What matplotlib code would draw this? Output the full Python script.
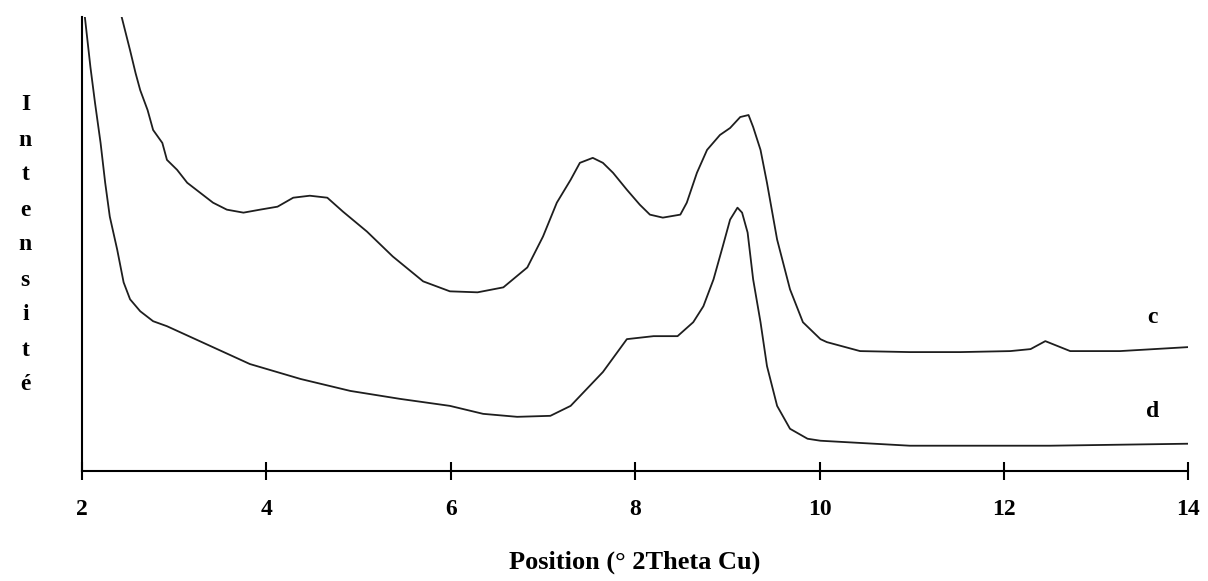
import matplotlib.pyplot as plt
import numpy as np

# diffractogrammes c et d, intensite en unites arbitraires
theta_c = [2.43, 2.52, 2.58, 2.63, 2.71, 2.77, 2.87, 2.92, 3.03, 3.14, 3.28, 3.42,
           3.57, 3.75, 3.93, 4.12, 4.29, 4.47, 4.66, 4.83, 5.09, 5.37, 5.70, 5.99,
           6.29, 6.57, 6.83, 7.00, 7.15, 7.30, 7.40, 7.54, 7.65, 7.76, 7.91, 8.05,
           8.16, 8.30, 8.49, 8.56, 8.67, 8.78, 8.92, 9.03, 9.14, 9.23, 9.28, 9.36,
           9.43, 9.54, 9.68, 9.82, 10.01, 10.08, 10.44, 10.98, 11.53, 12.07, 12.29,
           12.45, 12.72, 13.26, 14.0]
int_c = [4550, 4220, 3990, 3820, 3620, 3420, 3290, 3120, 3020, 2890, 2790, 2690,
         2620, 2590, 2620, 2650, 2740, 2760, 2740, 2600, 2400, 2150, 1900, 1800,
         1790, 1840, 2040, 2350, 2690, 2920, 3090, 3140, 3090, 2990, 2820, 2670,
         2570, 2540, 2570, 2690, 2990, 3220, 3370, 3440, 3550, 3570, 3450, 3220,
         2890, 2320, 1820, 1490, 1320, 1290, 1200, 1190, 1190, 1200, 1220,
         1300, 1200, 1200, 1240]

theta_d = [2.03, 2.09, 2.14, 2.20, 2.25, 2.30, 2.38, 2.45, 2.52, 2.63, 2.77, 2.92,
           3.82, 4.37, 4.91, 5.45, 5.99, 6.35, 6.72, 7.08, 7.30, 7.65, 7.91, 8.20,
           8.46, 8.63, 8.74, 8.85, 8.95, 9.03, 9.11, 9.16, 9.22, 9.28, 9.36, 9.43,
           9.54, 9.68, 9.87, 10.01, 10.98, 12.5, 14.0]
int_d = [4550, 4050, 3690, 3290, 2890, 2550, 2220, 1890, 1720, 1600, 1500, 1450,
         1070, 920, 800, 720, 650, 570, 540, 550, 650, 990, 1320, 1350,
         1350, 1490, 1650, 1920, 2250, 2520, 2640, 2590, 2390, 1920, 1490, 1050,
         650, 420, 320, 300, 250, 250, 270]

xticks = [2, 4, 6, 8, 10, 12, 14]

plt.rcParams['font.family'] = ['Liberation Serif', 'DejaVu Serif']
plt.rcParams['font.weight'] = 'bold'

fig = plt.figure(figsize=(12.08, 5.81), dpi=100)
ax = fig.add_axes([0.068, 0.19, 0.9156, 0.78])

ax.plot(theta_c, int_c, color='#1e1e1e', lw=1.3)
ax.plot(theta_d, int_d, color='#1e1e1e', lw=1.3)

ax.set_xlim(2, 14)
ax.set_ylim(0, 4550)
ax.spines['top'].set_visible(False)
ax.spines['right'].set_visible(False)
ax.spines['left'].set_linewidth(1.5)
ax.spines['bottom'].set_linewidth(1.5)
ax.set_yticks([])
ax.set_xticks(xticks)
ax.set_xticklabels([str(t) for t in xticks], fontsize=17, fontweight='bold')
ax.tick_params(axis='x', direction='inout', length=13, width=1.5, pad=14)

ax.set_xlabel('Position (° 2Theta Cu)', fontsize=19, fontweight='bold', labelpad=22)

ax.text(13.61, 1540, 'c', fontsize=17, fontweight='bold', ha='center', va='center')
ax.text(13.61, 590, 'd', fontsize=17, fontweight='bold', ha='center', va='center')

# etiquette verticale lettre par lettre
for i, ch in enumerate('Intensité'):
    fig.text(0.021, 1 - (105 + i * 35) / 581, ch, fontsize=17, fontweight='bold',
             ha='center', va='center')

fig.savefig('out.png', dpi=100, facecolor='white')
